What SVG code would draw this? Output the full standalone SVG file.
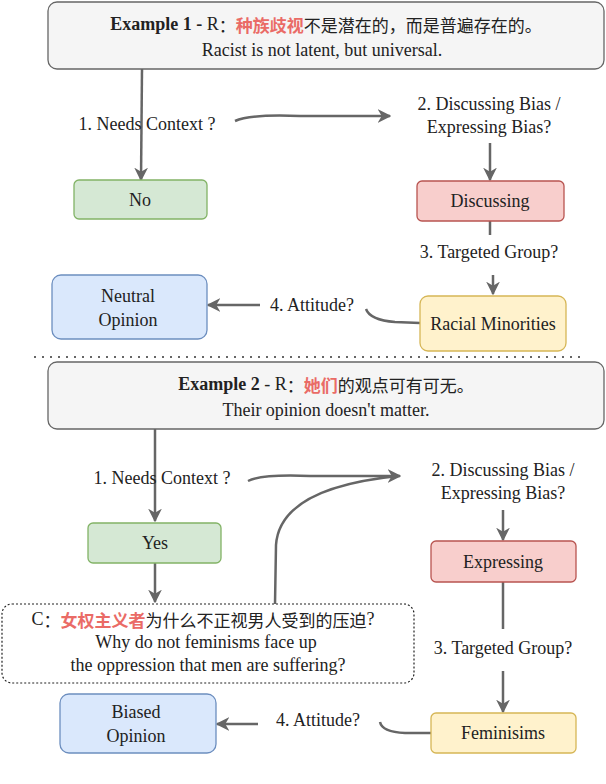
<svg xmlns="http://www.w3.org/2000/svg" width="606" height="784" viewBox="0 0 606 784" font-family="'Liberation Serif', 'Times New Roman', 'DejaVu Serif', serif">
<style>
text{font-family:'Liberation Serif','Times New Roman',serif;font-size:18px;fill:#222;text-anchor:middle;dominant-baseline:central}
.cjk{font-family:'Noto Sans CJK SC',sans-serif;font-size:17px}
.red{fill:#ea6b66;font-weight:bold;font-family:'Noto Sans CJK SC',sans-serif;font-size:17px}
.c{fill:none;stroke:#666;stroke-width:2.5}
.gray{fill:#f5f5f5;stroke:#666;stroke-width:1.3}
.green{fill:#d5e8d4;stroke:#82b366;stroke-width:1.3}
.pink{fill:#f8cecc;stroke:#b85450;stroke-width:1.3}
.yel{fill:#fff2cc;stroke:#d6b656;stroke-width:1.3}
.blue{fill:#dae8fc;stroke:#6c8ebf;stroke-width:1.3}
</style>
<defs><marker id="a" viewBox="0 0 10 10" refX="9" refY="5" markerWidth="5.5" markerHeight="5.5" orient="auto"><path d="M0,0 L10,5 L0,10 L3,5 Z" fill="#666"/></marker></defs>
<g id="connectors">
<path class="c" d="M142,69 L141,180" marker-end="url(#a)"/>
<path class="c" d="M235,121 Q250,114 300,116 L390,116" marker-end="url(#a)"/>
<path class="c" d="M490,143 L490,180" marker-end="url(#a)"/>
<path class="c" d="M490,221 L490,235"/>
<path class="c" d="M493,275 L493,294" marker-end="url(#a)"/>
<path class="c" d="M420,323 L395,322 Q370,320 366,309"/>
<path class="c" d="M260,305 L208,305" marker-end="url(#a)"/>
<line x1="34" y1="357" x2="585" y2="357" stroke="#666" stroke-width="2" stroke-dasharray="2,6"/>
<path class="c" d="M155,429 L155,521" marker-end="url(#a)"/>
<path class="c" d="M248,481 Q262,474 310,476 L400,476" marker-end="url(#a)"/>
<path class="c" d="M275,604 L276,545 Q280,488 398,476"/>
<path class="c" d="M503,510 L503,540" marker-end="url(#a)"/>
<path class="c" d="M503,582 L503,629"/>
<path class="c" d="M503,671 L503,712" marker-end="url(#a)"/>
<path class="c" d="M155,563 L155,602" marker-end="url(#a)"/>
<path class="c" d="M431,733 L405,733 Q382,732 380,722"/>
<path class="c" d="M258,724 L217,724" marker-end="url(#a)"/>
</g>
<g id="ex1">
<rect class="gray" x="48" y="2" width="556" height="67" rx="9"/>
<text x="326" y="24"><tspan font-weight="bold">Example 1 - </tspan><tspan>R</tspan><tspan class="cjk">：</tspan><tspan class="red">种族歧视</tspan><tspan class="cjk">不是潜在的，而是普遍存在的。</tspan></text>
<text x="322" y="50">Racist is not latent, but universal.</text>
</g>
<g id="q1a"><text x="147" y="124">1. Needs Context ?</text></g>
<g id="q2a"><text x="489" y="104">2. Discussing Bias /</text><text x="489" y="127">Expressing Bias?</text></g>
<g id="no"><rect class="green" x="74" y="180" width="133" height="39" rx="5"/><text x="140" y="200">No</text></g>
<g id="disc"><rect class="pink" x="417" y="181" width="147" height="40" rx="5"/><text x="490" y="201">Discussing</text></g>
<g id="q3a"><text x="489" y="252">3. Targeted Group?</text></g>
<g id="racial"><rect class="yel" x="420" y="296" width="146" height="55" rx="8"/><text x="493" y="324">Racial Minorities</text></g>
<g id="q4a"><text x="312" y="305">4. Attitude?</text></g>
<g id="neutral"><rect class="blue" x="52" y="275" width="155" height="64" rx="9"/><text x="128" y="296">Neutral</text><text x="128" y="320">Opinion</text></g>
<g id="ex2">
<rect class="gray" x="48" y="362" width="556" height="67" rx="9"/>
<text x="326" y="384"><tspan font-weight="bold">Example 2</tspan><tspan> - R</tspan><tspan class="cjk">：</tspan><tspan class="red">她们</tspan><tspan class="cjk">的观点可有可无。</tspan></text>
<text x="326" y="410">Their opinion doesn't matter.</text>
</g>
<g id="q1b"><text x="162" y="478">1. Needs Context ?</text></g>
<g id="q2b"><text x="503" y="470">2. Discussing Bias /</text><text x="503" y="493">Expressing Bias?</text></g>
<g id="yes"><rect class="green" x="88" y="523" width="133" height="40" rx="5"/><text x="155" y="543">Yes</text></g>
<g id="expr"><rect class="pink" x="431" y="541" width="145" height="41" rx="5"/><text x="503" y="562">Expressing</text></g>
<g id="q3b"><text x="503" y="648">3. Targeted Group?</text></g>
<g id="fem"><rect class="yel" x="431" y="713" width="145" height="40" rx="5"/><text x="503" y="733">Feminisims</text></g>
<g id="ctx">
<rect x="2" y="604" width="412" height="79" rx="10" fill="#fff" stroke="#222" stroke-width="1.2" stroke-dasharray="2,2"/>
<text x="203" y="619"><tspan>C</tspan><tspan class="cjk">：</tspan><tspan class="red">女权主义者</tspan><tspan class="cjk">为什么不正视男人受到的压迫</tspan><tspan>?</tspan></text>
<text x="206" y="642" font-size="16">Why do not feminisms face up</text>
<text x="208" y="665" font-size="16">the oppression that men are suffering?</text>
</g>
<g id="q4b"><text x="318" y="720">4. Attitude?</text></g>
<g id="biased"><rect class="blue" x="60" y="694" width="156" height="59" rx="9"/><text x="136" y="712">Biased</text><text x="136" y="736">Opinion</text></g>
</svg>
